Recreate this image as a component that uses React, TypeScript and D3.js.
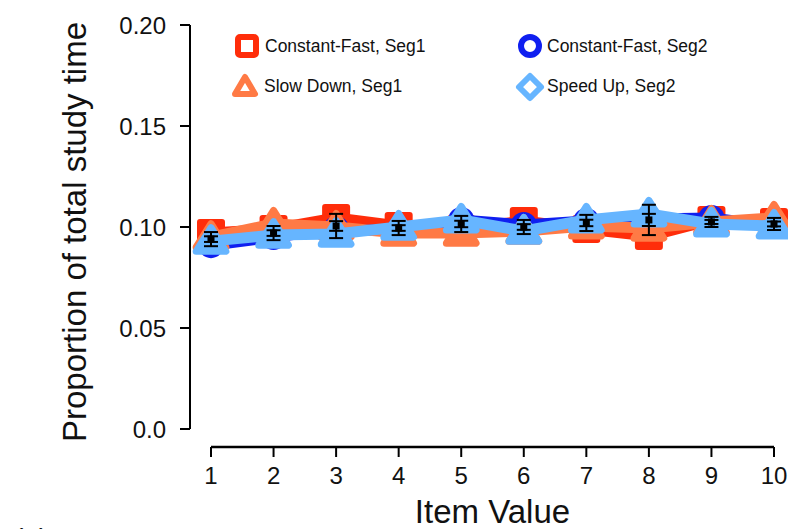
import React from "react";
import * as d3 from "d3";

const itemValues = [1, 2, 3, 4, 5, 6, 7, 8, 9, 10];
const constFastSeg1 = [0.097, 0.099, 0.1045, 0.1005, 0.099, 0.103, 0.099, 0.0955, 0.1035, 0.1025];
const constFastSeg2 = [0.091, 0.095, 0.099, 0.098, 0.1035, 0.101, 0.103, 0.104, 0.1045, 0.1005];
const slowDownSeg1 = [0.095, 0.1015, 0.100, 0.097, 0.097, 0.098, 0.1005, 0.0995, 0.1025, 0.1045];
const speedUpSeg2 = [0.093, 0.096, 0.0965, 0.1, 0.1035, 0.098, 0.1035, 0.1065, 0.1015, 0.1005];
const errMeans = [0.094, 0.097, 0.1005, 0.0995, 0.1015, 0.1, 0.102, 0.1035, 0.1025, 0.1015];
const errHalf = [0.0035, 0.0035, 0.006, 0.0035, 0.004, 0.0035, 0.004, 0.0075, 0.0025, 0.003];
const yTicks = [0, 0.05, 0.1, 0.15, 0.2];
const yTickLabels = ["0.0", "0.05", "0.10", "0.15", "0.20"];
const legendLabels = ["Constant-Fast, Seg1", "Constant-Fast, Seg2", "Slow Down, Seg1", "Speed Up, Seg2"];

const RED = "#ff2d0a";
const BLUE = "#0f1ff0";
const ORANGE = "#ff7a45";
const LBLUE = "#66b5ff";

const FONT = "Liberation Sans, Arial, Helvetica, sans-serif";

export default function App() {
  const x = d3.scaleLinear().domain([1, 10]).range([211, 774]);
  const y = d3.scaleLinear().domain([0, 0.2]).range([429, 25]);
  const line = (vals: number[]) =>
    d3.line<number>().x((_, i) => x(itemValues[i])).y((v) => y(v))(vals) || "";

  const tri = (cx: number, cy: number, s: number) =>
    `M${cx},${cy - s}L${cx + s * 1.1},${cy + s * 0.75}L${cx - s * 1.1},${cy + s * 0.75}Z`;

  const series = [
    { vals: constFastSeg1, color: RED, shape: "square" },
    { vals: constFastSeg2, color: BLUE, shape: "circle" },
    { vals: slowDownSeg1, color: ORANGE, shape: "triangle" },
    { vals: speedUpSeg2, color: LBLUE, shape: "triangle" },
  ];

  return (
    <svg width={788} height={529} style={{ position: "absolute", left: 0, top: 0, background: "#fff" }}>
      {/* y axis */}
      <line x1={190} x2={190} y1={y(0)} y2={y(0.2)} stroke="#000" strokeWidth={2} />
      {yTicks.map((t, i) => (
        <g key={t}>
          <line x1={180} x2={190} y1={y(t)} y2={y(t)} stroke="#000" strokeWidth={2} />
          <text x={166} y={y(t)} dy="0.36em" textAnchor="end" fontFamily={FONT} fontSize={24} fill="#111">
            {yTickLabels[i]}
          </text>
        </g>
      ))}
      <text
        transform={`translate(86,${(y(0) + y(0.2)) / 2 + 5}) rotate(-90)`}
        textAnchor="middle"
        fontFamily={FONT}
        fontSize={33}
        fill="#111"
      >
        Proportion of total study time
      </text>
      {/* x axis */}
      <line x1={x(1)} x2={x(10)} y1={447} y2={447} stroke="#000" strokeWidth={2.5} />
      {itemValues.map((v) => (
        <g key={v}>
          <line x1={x(v)} x2={x(v)} y1={447} y2={457} stroke="#000" strokeWidth={2} />
          <text x={x(v)} y={475} dy="0.36em" textAnchor="middle" fontFamily={FONT} fontSize={24} fill="#111">
            {v}
          </text>
        </g>
      ))}
      <text x={(x(1) + x(10)) / 2} y={523} textAnchor="middle" fontFamily={FONT} fontSize={33} fill="#111">
        Item Value
      </text>
      <text x={14} y={548} fontFamily={FONT} fontSize={28} fill="#111">
        (a)
      </text>

      {/* series */}
      {series.map((s, si) => (
        <g key={si}>
          <path d={line(s.vals)} fill="none" stroke={s.color} strokeWidth={11} strokeLinejoin="round" />
          {s.vals.map((v, i) => {
            const cx = x(itemValues[i]);
            const cy = y(v);
            if (s.shape === "square")
              return (
                <rect key={i} x={cx - 11} y={cy - 11} width={22} height={22} fill={s.color} stroke={s.color} strokeWidth={6} strokeLinejoin="round" />
              );
            if (s.shape === "circle")
              return <circle key={i} cx={cx} cy={cy} r={13} fill={s.color} />;
            return (
              <path key={i} d={tri(cx, cy, 13.5)} fill={s.color} stroke={s.color} strokeWidth={7} strokeLinejoin="round" />
            );
          })}
        </g>
      ))}

      {/* error bars */}
      {errMeans.map((m, i) => {
        const cx = x(itemValues[i]);
        const top = y(m + errHalf[i]);
        const bot = y(m - errHalf[i]);
        const ys = [top, bot, y(m + errHalf[i] * 0.4), y(m - errHalf[i] * 0.4)];
        return (
          <g key={i}>
            <line x1={cx} x2={cx} y1={top} y2={bot} stroke="#000" strokeWidth={2} />
            {ys.map((yy, k) => (
              <line key={k} x1={cx - 7} x2={cx + 7} y1={yy} y2={yy} stroke="#000" strokeWidth={2} />
            ))}
            <rect x={cx - 3.5} y={y(m) - 3.5} width={7} height={7} fill="#000" />
          </g>
        );
      })}

      {/* legend */}
      <rect x={238} y={37} width={18} height={18} rx={2} fill="none" stroke={RED} strokeWidth={6} />
      <text x={265} y={46} dy="0.36em" fontFamily={FONT} fontSize={17.5} fill="#111">{legendLabels[0]}</text>
      <circle cx={530} cy={46} r={9} fill="none" stroke={BLUE} strokeWidth={6} />
      <text x={547} y={46} dy="0.36em" fontFamily={FONT} fontSize={17.5} fill="#111">{legendLabels[1]}</text>
      <path d="M245,77L255,94L235,94Z" fill="none" stroke={ORANGE} strokeWidth={6} strokeLinejoin="round" />
      <text x={264} y={86} dy="0.36em" fontFamily={FONT} fontSize={17.5} fill="#111">{legendLabels[2]}</text>
      <path d="M530,76L541,87L530,98L519,87Z" fill="none" stroke={LBLUE} strokeWidth={6} strokeLinejoin="round" />
      <text x={547} y={86} dy="0.36em" fontFamily={FONT} fontSize={17.5} fill="#111">{legendLabels[3]}</text>
    </svg>
  );
}
